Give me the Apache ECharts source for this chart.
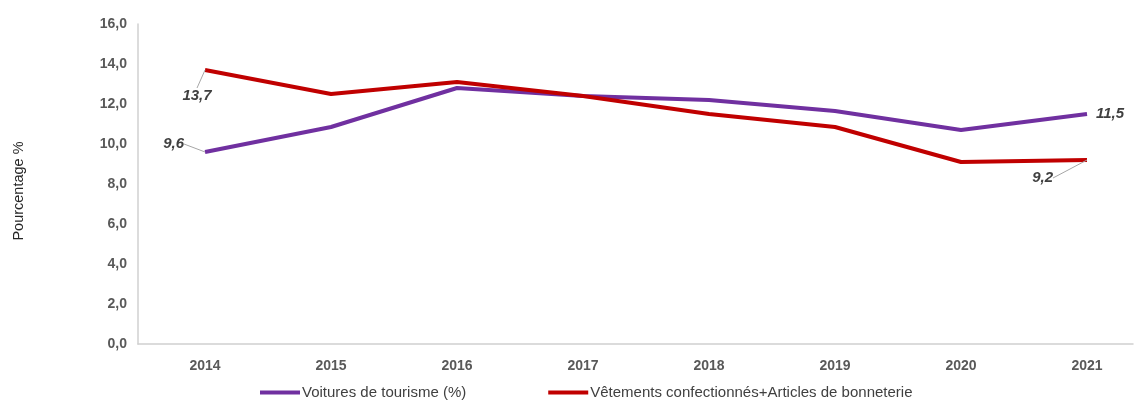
<!DOCTYPE html>
<html>
<head>
<meta charset="utf-8">
<script src="https://cdn.jsdelivr.net/npm/echarts@6/dist/echarts.min.js"></script>
<style>html,body{margin:0;padding:0;background:#fff}#c{width:1135px;height:405px}</style>
</head>
<body>
<div id="c"></div>
<script>
var years = ['2014','2015','2016','2017','2018','2019','2020','2021'];
var voitures = [9.6, 10.85, 12.8, 12.4, 12.2, 11.65, 10.7, 11.5];
var vetements = [13.7, 12.5, 13.1, 12.4, 11.5, 10.85, 9.1, 9.2];
var yTicks = [0, 2, 4, 6, 8, 10, 12, 14, 16];
var seriesNames = ['Voitures de tourisme (%)', 'Vêtements confectionnés+Articles de bonneterie'];

var FONT = '"Liberation Sans", Arial, sans-serif';
function fmt(v){ return v.toFixed(1).replace('.', ','); }
var labelBase = {show:true, fontFamily: FONT, fontSize: 15, fontWeight:'bold', fontStyle:'italic', color:'#404040',
  formatter: function(p){ return fmt(p.value[1]); }};
var lineStyleLbl = {show:true, lineStyle:{color:'#a6a6a6', width:1}};

var idx = years.map(function(y, i){ return i; });
function buildData(arr, cfg){
  return arr.map(function(v, i){
    if (cfg[i]) return {value: [i, v], label: Object.assign({}, labelBase, cfg[i].label), labelLine: cfg[i].line ? lineStyleLbl : {show:false}};
    return {value: [i, v], label:{show:false}};
  });
}

var chart = echarts.init(document.getElementById('c'));
chart.setOption({
  animation:false,
  grid:{left:138, right:2, top:24, bottom:61},
  legend:{
    bottom: 0, left: 255, itemWidth: 40, itemHeight: 4, itemGap: 82, icon:'rect',
    textStyle:{fontFamily: FONT, fontSize: 15, color:'#404040', padding:[0,0,0,-3]},
    data: seriesNames
  },
  xAxis:{
    type:'value', min: -0.532, max: idx.length - 1 + 0.365,
    axisLine:{show:true, onZero:false, lineStyle:{color:'#d0d0d0', width:1.5}},
    axisTick:{show:false},
    splitLine:{show:false},
    axisLabel:{customValues: idx, fontFamily: FONT, fontSize:14, fontWeight:'bold', color:'#595959', margin:15,
      formatter: function(v){ return years[Math.round(v)]; }}
  },
  yAxis:{
    type:'value', min: yTicks[0], max: yTicks[yTicks.length-1], interval: yTicks[1]-yTicks[0],
    name:'Pourcentage %', nameLocation:'middle', nameGap:112, nameRotate:90,
    nameTextStyle:{fontFamily: FONT, fontSize:14.5, color:'#262626', padding:[0,0,0,-14]},
    axisLine:{show:true, onZero:false, lineStyle:{color:'#d0d0d0', width:1.5}},
    axisTick:{show:false},
    splitLine:{show:false},
    axisLabel:{fontFamily: FONT, fontSize:14, fontWeight:'bold', color:'#595959', margin:11, formatter: fmt}
  },
  series:[
    {
      name: seriesNames[0], type:'line', data: buildData(voitures, {
        0:{label:{position:'left', distance:5}, line:true},
        7:{label:{position:'right', distance:9}, line:false}
      }),
      labelLayout: function(p){ return p.dataIndex === 0 ? {dx:-16, dy:-8} : {}; },
      symbol:'circle', symbolSize:0.01, showSymbol:true,
      lineStyle:{color:'#7030A0', width:4}, itemStyle:{color:'#7030A0'}
    },
    {
      name: seriesNames[1], type:'line', data: buildData(vetements, {
        0:{label:{position:'bottom', distance:5}, line:true},
        7:{label:{position:'left', distance:5}, line:true}
      }),
      labelLayout: function(p){
        if (p.dataIndex === 7) return {dx:-29, dy:18};
        if (p.dataIndex === 0) return {dx:-8, dy:13};
        return {};
      },
      symbol:'circle', symbolSize:0.01, showSymbol:true,
      lineStyle:{color:'#C00000', width:4}, itemStyle:{color:'#C00000'}
    }
  ]
});
</script>
</body>
</html>
